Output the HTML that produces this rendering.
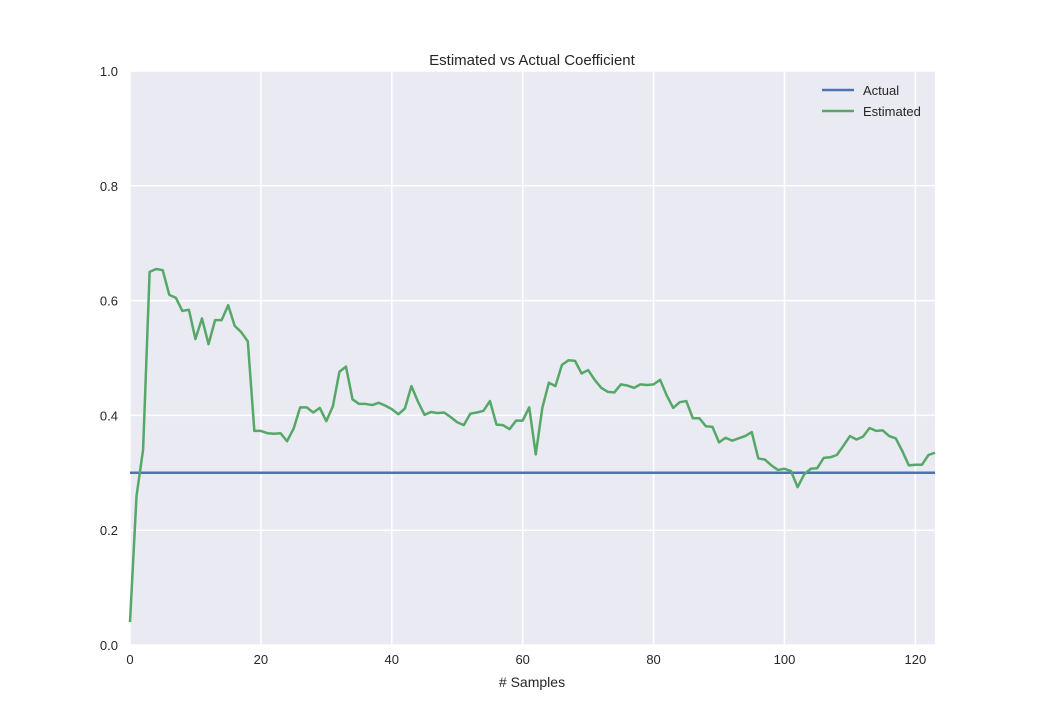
<!DOCTYPE html>
<html><head><meta charset="utf-8"><style>
body{margin:0;background:#fff;font-family:"Liberation Sans",sans-serif;}
svg text{font-family:"Liberation Sans",sans-serif;fill:#262626;}
</style></head><body>
<svg width="1040" height="716" xmlns="http://www.w3.org/2000/svg">
<rect x="130" y="71" width="805" height="574" fill="#eaeaf2"/>
<g id="grid"></g>
<g id="ticks"></g>
<g id="series"></g>
<text x="532" y="65" text-anchor="middle" font-size="15">Estimated vs Actual Coefficient</text>
<text x="532" y="687" text-anchor="middle" font-size="14"># Samples</text>
<g>
<line x1="822" y1="90" x2="854" y2="90" stroke="#4c72b0" stroke-width="2.5"/>
<text x="863" y="95" font-size="13">Actual</text>
<line x1="822" y1="111" x2="854" y2="111" stroke="#55a868" stroke-width="2.5"/>
<text x="863" y="116" font-size="13">Estimated</text>
</g>
</svg>
<script>
const xTicks=[0,20,40,60,80,100,120];
const yTicks=[0.0,0.2,0.4,0.6,0.8,1.0];
const actualValue=[0.3];
const estimated=[0.04,0.26,0.34,0.65,0.655,0.653,0.61,0.605,0.582,0.584,0.533,0.569,0.524,0.566,0.566,0.592,0.556,0.545,0.529,0.373,0.373,0.369,0.368,0.369,0.355,0.377,0.414,0.414,0.405,0.413,0.390,0.416,0.476,0.485,0.428,0.420,0.420,0.418,0.422,0.417,0.411,0.402,0.412,0.451,0.424,0.401,0.406,0.404,0.405,0.397,0.388,0.383,0.403,0.405,0.408,0.425,0.384,0.383,0.376,0.391,0.391,0.414,0.332,0.413,0.457,0.451,0.488,0.496,0.495,0.473,0.479,0.462,0.448,0.441,0.440,0.454,0.452,0.448,0.454,0.453,0.454,0.462,0.435,0.413,0.423,0.425,0.395,0.395,0.381,0.380,0.353,0.361,0.356,0.360,0.364,0.371,0.325,0.323,0.313,0.305,0.307,0.303,0.275,0.297,0.307,0.308,0.326,0.327,0.331,0.347,0.364,0.358,0.363,0.378,0.373,0.374,0.364,0.360,0.338,0.313,0.314,0.314,0.331,0.335];
const X0=130,X1=935,Y0=645,Y1=71,xMax=estimated.length-1;
const sx=v=>X0+v/xMax*(X1-X0), sy=v=>Y0-v*(Y0-Y1);
const NS="http://www.w3.org/2000/svg";
function mk(tag,attrs,parent){const e=document.createElementNS(NS,tag);for(const k in attrs)e.setAttribute(k,attrs[k]);parent.appendChild(e);return e;}
const grid=document.getElementById('grid'),ticks=document.getElementById('ticks'),series=document.getElementById('series');
xTicks.forEach(t=>{
 const l=mk('line',{x1:sx(t),x2:sx(t),y1:Y1,y2:Y0,stroke:'#fff','stroke-width':1.5},grid);
 
 
 const tx=mk('text',{x:sx(t),y:Y0+19,'text-anchor':'middle','font-size':13},ticks);
 tx.textContent=t;
 
 
});
yTicks.forEach(t=>{
 const l=mk('line',{x1:X0,x2:X1,y1:sy(t),y2:sy(t),stroke:'#fff','stroke-width':1.5},grid);
 
 
 const tx=mk('text',{x:X0-12,y:sy(t)+5,'text-anchor':'end','font-size':13},ticks);
 tx.textContent=t.toFixed(1);
 
 
});
const a=mk('line',{x1:X0,x2:X1,y1:sy(actualValue[0]),y2:sy(actualValue[0]),stroke:'#4c72b0','stroke-width':2.5},series);


const p=mk('polyline',{points:estimated.map((v,i)=>sx(i)+','+sy(v)).join(' '),fill:'none',stroke:'#55a868','stroke-width':2.5,'stroke-linejoin':'round'},series);


</script>
</body></html>
